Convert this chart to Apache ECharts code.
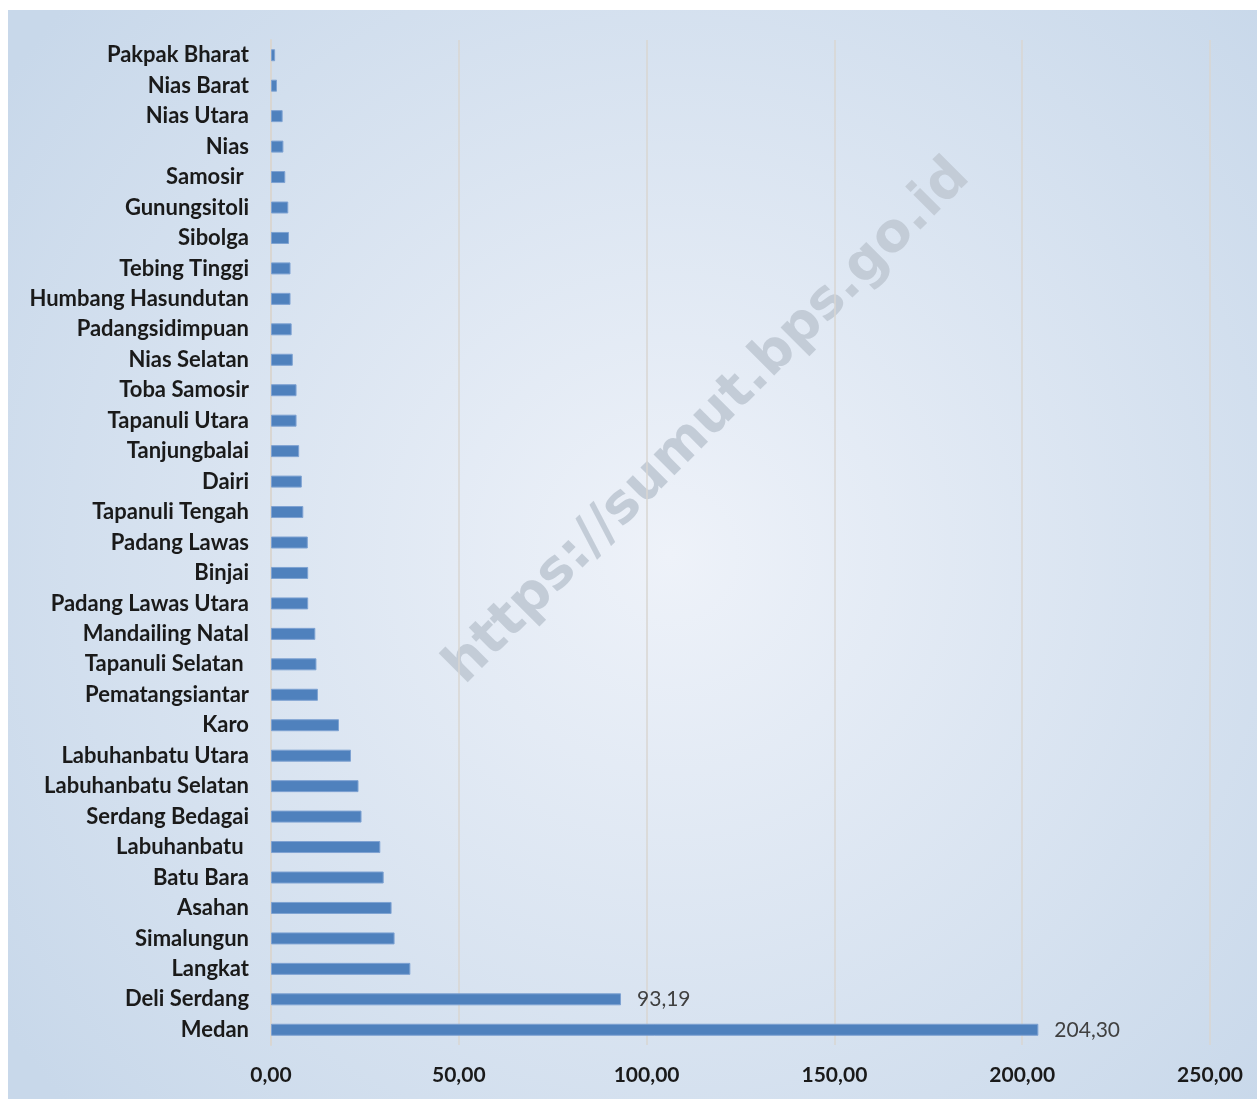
<!doctype html>
<html>
<head>
<meta charset="UTF-8">
<title></title>
<script src="https://cdn.jsdelivr.net/npm/echarts@6/dist/echarts.min.js"></script>
<style>
  html, body { margin: 0; padding: 0; background: #fff; }
  #chart { position: absolute; left: 8px; top: 10px; width: 1249px; height: 1089px; }
</style>
</head>
<body>
<div id="chart"></div>
<script>
// kabupaten/kota, top to bottom as in the picture
var regions = ['Pakpak Bharat', 'Nias Barat', 'Nias Utara', 'Nias', 'Samosir ', 'Gunungsitoli',
  'Sibolga', 'Tebing Tinggi', 'Humbang Hasundutan', 'Padangsidimpuan', 'Nias Selatan',
  'Toba Samosir', 'Tapanuli Utara', 'Tanjungbalai', 'Dairi', 'Tapanuli Tengah', 'Padang Lawas',
  'Binjai', 'Padang Lawas Utara', 'Mandailing Natal', 'Tapanuli Selatan ', 'Pematangsiantar',
  'Karo', 'Labuhanbatu Utara', 'Labuhanbatu Selatan', 'Serdang Bedagai', 'Labuhanbatu ',
  'Batu Bara', 'Asahan', 'Simalungun', 'Langkat', 'Deli Serdang', 'Medan'];
var values = [1.1, 1.6, 3.1, 3.3, 3.8, 4.6,
  4.8, 5.2, 5.2, 5.5, 5.8,
  6.8, 6.8, 7.5, 8.2, 8.6, 9.8,
  9.9, 9.9, 11.8, 12.1, 12.5,
  18.1, 21.3, 23.3, 24.1, 29.1,
  30.0, 32.1, 32.9, 37.1, 93.19, 204.30];
var labelled = ['Deli Serdang', 'Medan'];
var xTicks = [0, 50, 100, 150, 200, 250];

function fmt(v) {
  return v.toFixed(2).replace('.', ',');
}

var barData = values.map(function (v, i) {
  return {
    value: v,
    label: { show: labelled.indexOf(regions[i]) >= 0 }
  };
});

var myChart = echarts.init(document.getElementById('chart'));
var option = {
  backgroundColor: {
    type: 'radial', x: 0.53, y: 0.5, r: 0.75,
    colorStops: [
      { offset: 0, color: '#eef2f9' },
      { offset: 1, color: '#c8d8ea' }
    ]
  },
  textStyle: { fontFamily: 'Lato' },
  grid: { left: 263, right: 47, top: 30, bottom: 54, containLabel: false },
  xAxis: {
    type: 'value',
    min: xTicks[0],
    max: xTicks[xTicks.length - 1],
    interval: 50,
    axisLine: { show: false },
    axisTick: { show: false },
    splitLine: { lineStyle: { color: '#d9d6d2', width: 1.5 } },
    axisLabel: {
      margin: 20,
      fontSize: 21,
      fontWeight: 'bold',
      color: '#1a1a1a',
      formatter: function (v) { return fmt(v); }
    }
  },
  yAxis: {
    type: 'category',
    inverse: true,
    data: regions,
    axisLine: { lineStyle: { color: '#d9d6d2', width: 2 } },
    axisTick: { show: false },
    axisLabel: {
      margin: 22,
      fontSize: 22,
      fontWeight: 'bold',
      color: '#1a1a1a'
    }
  },
  series: [{
    type: 'bar',
    barWidth: 12,
    data: barData,
    itemStyle: { color: '#4f81bd', borderColor: '#7ea2d2', borderWidth: 1 },
    label: {
      position: 'right',
      distance: 16,
      fontSize: 21,
      color: '#404040',
      formatter: function (p) { return fmt(p.value); }
    }
  }],
  graphic: [{
    type: 'text',
    x: 700,
    y: 412,
    rotation: Math.PI / 4,
    style: {
      text: 'https://sumut.bps.go.id',
      font: 'bold 54px "DejaVu Sans"',
      fill: '#c3ccd7',
      textAlign: 'center',
      textVerticalAlign: 'middle'
    }
  }]
};
myChart.setOption(option);
</script>
</body>
</html>
